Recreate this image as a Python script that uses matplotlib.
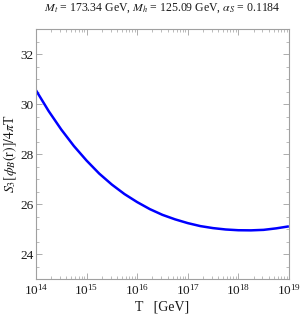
import matplotlib
matplotlib.use("Agg")
import matplotlib.pyplot as plt
from matplotlib.ticker import LogLocator, MultipleLocator, NullFormatter

log10_T = [14.0, 14.25, 14.5, 14.75, 15.0, 15.25, 15.5, 15.75, 16.0, 16.25,
           16.5, 16.75, 17.0, 17.25, 17.5, 17.75, 18.0, 18.25, 18.5, 18.75, 19.0]
S3_over_T = [30.55, 29.72, 28.98, 28.32, 27.74, 27.22, 26.78, 26.40, 26.08, 25.80,
             25.57, 25.39, 25.24, 25.12, 25.04, 24.985, 24.955, 24.95, 24.97, 25.03, 25.11]
T_values = [10 ** v for v in log10_T]

title_text = r"$M_t$ = 173.34 GeV, $M_h$ = 125.09 GeV, $\alpha_S$ = 0.1184"
xlabel_text = "T   [GeV]"
ylabel_text = r"$S_3[\phi_B(\mathrm{r})]/4\pi$T"

plt.rcParams['font.family'] = ['Liberation Serif', 'DejaVu Serif']
plt.rcParams['mathtext.fontset'] = 'stix'

fig = plt.figure(figsize=(3.0, 3.19), dpi=100)
ax = fig.add_axes([0.12, 0.125, 0.843, 0.784])
ax.plot(T_values, S3_over_T, color=(0, 0, 1), lw=1.8, solid_capstyle='butt')
ax.set_xscale('log')
ax.set_xlim(1e14, 1e19)
ax.set_ylim(23, 33)

ax.xaxis.set_major_locator(LogLocator(base=10, numticks=10))
ax.xaxis.set_minor_locator(LogLocator(base=10, subs=range(2, 10), numticks=100))
ax.xaxis.set_minor_formatter(NullFormatter())
ax.yaxis.set_major_locator(MultipleLocator(2))
ax.yaxis.set_minor_locator(MultipleLocator(0.5))

gray = '#a0a0a0'
for s in ax.spines.values():
    s.set_color(gray)
    s.set_linewidth(0.8)
ax.tick_params(which='both', direction='in', top=True, right=True, color=gray,
               labelsize=9.5, labelcolor='#1a1a1a')
ax.tick_params(which='major', length=4, width=0.6)
ax.tick_params(which='minor', length=2, width=0.5)
ax.tick_params(axis='x', pad=3)
ax.tick_params(axis='y', pad=2)

ax.set_title(title_text, fontsize=8.5, pad=13, color='#1a1a1a')
ax.set_xlabel(xlabel_text, fontsize=10, color='#1a1a1a', labelpad=2)
ax.set_ylabel(ylabel_text, fontsize=10, color='#1a1a1a', labelpad=1)

fig.savefig("out.png", dpi=100)
